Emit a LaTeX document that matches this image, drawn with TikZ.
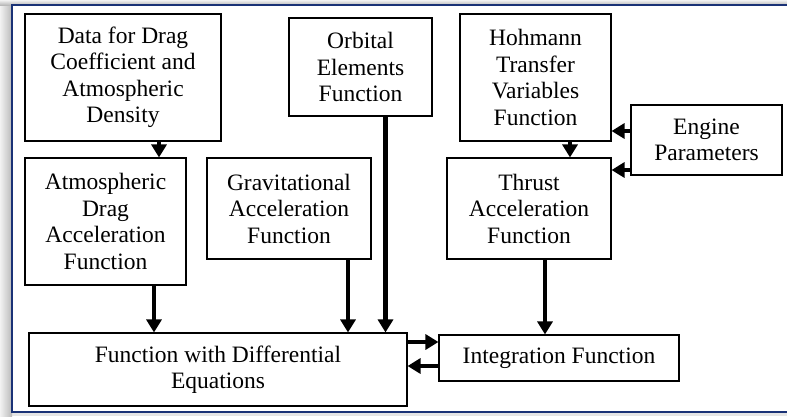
\documentclass[tikz,border=0pt]{standalone}
\usepackage{fontspec}
\setmainfont{Liberation Serif}
\usepackage{xcolor}
\usepackage{tikz}
\usetikzlibrary{
	arrows,arrows.meta,shapes
}
\definecolor{frameblue}{RGB}{26,50,118}

\begin{document}
\begin{tikzpicture}[x=1pt,y=-1pt,
	box/.style={draw,line width=1.1pt,rectangle,inner sep=0pt,align=center,
		font=\fontsize{23.5}{26.5}\selectfont},
	flow/.style={line width=3.5pt,-{Triangle[length=13pt,width=15pt]}}]
	\useasboundingbox (0,0) rectangle (787,416);
	%
	%  FRAME
	%
	\fill[gray!20] (0,0) rectangle (787,416);
	\shade[left color=gray!10,right color=gray!55] (0,0) rectangle (12,416);
	\shade[top color=gray!10,bottom color=gray!55] (0,0) rectangle (787,5);
	\filldraw[fill=white,draw=frameblue,line width=2pt] (12,5) rectangle (800,412);
	%
	%  BOXES
	%
	\node[box,minimum width=196pt,minimum height=127pt] (DAT) at (123,77.5)
		{Data for Drag\\Coefficient and\\Atmospheric\\Density};
	\node[box,minimum width=143pt,minimum height=98pt] (ORB) at (360.5,67)
		{Orbital\\Elements\\Function};
	\node[box,minimum width=151pt,minimum height=127pt] (HOH) at (535.5,77.5)
		{Hohmann\\Transfer\\Variables\\Function};
	\node[box,minimum width=151pt,minimum height=70pt] (ENG) at (706.5,140)
		{Engine\\Parameters};
	\node[box,minimum width=161pt,minimum height=127pt] (DRG) at (105.5,221.5)
		{Atmospheric\\Drag\\Acceleration\\Function};
	\node[box,minimum width=164pt,minimum height=101pt] (GRV) at (289,208.5)
		{Gravitational\\Acceleration\\Function};
	\node[box,minimum width=164pt,minimum height=101pt] (THR) at (529,208.5)
		{Thrust\\Acceleration\\Function};
	\node[box,minimum width=378pt,minimum height=73pt] (DEQ) at (218,369.5)
		{Function with Differential\\Equations};
	\node[box,minimum width=240pt,minimum height=46pt] (INT) at (559,358)
		{Integration Function};
	%
	%  ARROWS
	%
	\path[flow]
	([xshift=36pt]DAT.south) edge ([xshift=36pt]DAT.south |- DRG.north)
	([xshift=48.5pt]DRG.south) edge ([xshift=48.5pt]DRG.south |- DEQ.north)
	([xshift=59pt]GRV.south) edge ([xshift=59pt]GRV.south |- DEQ.north)
	([xshift=25pt]ORB.south) edge[line width=4.5pt] ([xshift=25pt]ORB.south |- DEQ.north)
	([xshift=34.5pt]HOH.south) edge ([xshift=34.5pt]HOH.south |- THR.north)
	([yshift=9pt]ENG.west) edge ([yshift=9pt]ENG.west -| HOH.east)
	([yshift=-30pt]ENG.west) edge ([yshift=-30pt]ENG.west -| THR.east)
	([xshift=16pt]THR.south) edge ([xshift=16pt]THR.south |- INT.north)
	([yshift=27.5pt]DEQ.east) edge ([yshift=27.5pt]DEQ.east -| INT.west)
	([yshift=-8pt]INT.west) edge ([yshift=-8pt]INT.west -| DEQ.east);
\end{tikzpicture}
\end{document}
